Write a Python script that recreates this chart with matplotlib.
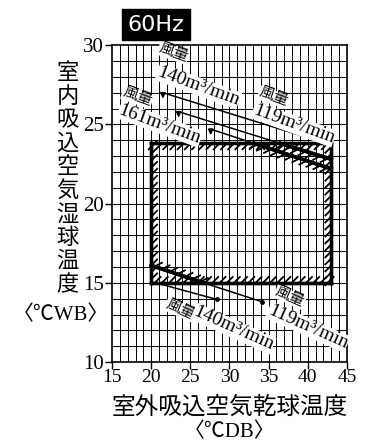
import numpy as np
import matplotlib
matplotlib.use("Agg")
import matplotlib.pyplot as plt
import matplotlib.patheffects as pe

plt.rcParams['font.family'] = ['Liberation Serif', 'Noto Sans CJK JP']

# Operating range box (outdoor DB, indoor WB)
box_x = [20, 43, 43, 20, 20]
box_y = [15, 15, 23.8, 23.8, 15]

# Upper limit lines for each airflow (start point -> right edge)
upper_x0 = [21.5, 23.5, 27.6]
upper_y0 = [27.0, 25.8, 24.7]
upper_x1 = [43, 43, 43]
upper_y1 = [23.7, 22.8, 22.2]

# Lower limit lines
low119_x = [20, 26.7, 34.2]
low119_y = [16.1, 15.0, 13.8]
low140_x = [20.6, 28.4]
low140_y = [15.0, 13.95]

x_ticks = [15, 20, 25, 30, 35, 40, 45]
y_ticks = [10, 15, 20, 25, 30]
y_title = '室内吸込空気湿球温度'

fig = plt.figure(figsize=(3.71, 4.47), dpi=100)
ax = fig.add_axes([0.302, 0.190, 0.633, 0.709])
ax.set_xlim(15, 45)
ax.set_ylim(10, 30)

# graph paper grid
for v in range(16, 45):
    ax.axvline(v, color='black', lw=0.7, zorder=1)
for h in range(11, 30):
    ax.axhline(h, color='black', lw=0.7, zorder=1)

ax.set_xticks(x_ticks)
ax.set_yticks(y_ticks)
ax.tick_params(direction='out', length=5, width=1, labelsize=15, pad=1)
ax.tick_params(axis='x', labelsize=14, pad=0)
for s in ax.spines.values():
    s.set_linewidth(1.2)

hatch = dict(spacing=5, length=1.2, linewidth=1.3)

# hatched box edges (hatches on the inside)
angles = [45, 135, 45, 135]
for i in range(4):
    ax.plot(box_x[i:i + 2], box_y[i:i + 2], color='black', lw=2.4, zorder=4,
            solid_capstyle='projecting',
            path_effects=[pe.withTickedStroke(angle=angles[i], **hatch), pe.Normal()])

# upper lines
for x0, y0, x1, y1 in zip(upper_x0, upper_y0, upper_x1, upper_y1):
    ax.plot([x0, x1], [y0, y1], color='black', lw=1.1, zorder=4)
    ax.annotate('', xy=(x0, y0 - 0.55), xytext=(x0, y0),
                arrowprops=dict(arrowstyle='-|>', color='black', lw=1, mutation_scale=8),
                zorder=5)
# thick hatched part below the box top
for x0, y0, x1, y1 in zip(upper_x0[1:], upper_y0[1:], upper_x1[1:], upper_y1[1:]):
    xc = x0 + (y0 - box_y[2]) * (x1 - x0) / (y0 - y1)
    yc = box_y[2]
    ax.plot([xc, x1], [yc, y1], color='black', lw=2.6, zorder=4,
            path_effects=[pe.withTickedStroke(angle=-135, **hatch), pe.Normal()])

# lower lines
ax.plot(low119_x[:2], low119_y[:2], color='black', lw=2.6, zorder=4,
        path_effects=[pe.withTickedStroke(angle=45, **hatch), pe.Normal()])
ax.plot(low119_x[1:], low119_y[1:], color='black', lw=1.1, zorder=4)
ax.plot(low140_x, low140_y, color='black', lw=1.1, zorder=4)
ax.plot([low119_x[-1], low140_x[-1]], [low119_y[-1], low140_y[-1]], 'o',
        color='black', ms=2.5, zorder=5)

# labels
lab = dict(ha='center', va='center', rotation=-20, rotation_mode='anchor', zorder=6,
           bbox=dict(facecolor='white', edgecolor='none', pad=0.3))
ax.text(22.8, 29.5, '風量', fontsize=11, **lab)
ax.text(26.0, 27.4, '140m³/min', fontsize=14, **lab)
ax.text(18.2, 26.7, '風量', fontsize=11, **lab)
ax.text(21.1, 25.0, '161m³/min', fontsize=14, **lab)
ax.text(35.6, 26.7, '風量', fontsize=11, **lab)
ax.text(38.2, 25.0, '119m³/min', fontsize=14, **lab)
lab2 = dict(lab, rotation=-24)
ax.text(23.7, 13.3, '風量', fontsize=11, **lab2)
ax.text(30.5, 12.1, '140m³/min', fontsize=14, **lab2)
ax.text(37.7, 14.1, '風量', fontsize=11, **lab2)
ax.text(40.0, 12.2, '119m³/min', fontsize=14, **lab2)

# axis titles (vertical title written one character per line)
for i, ch in enumerate(y_title):
    fig.text(0.182, 1 - (74 + i * 23.5) / 447, ch, fontsize=16, ha='center', va='center')
fig.text(0.165, 0.295, '〈℃WB〉', fontsize=15, ha='center', va='center')
fig.text(0.62, 0.088, '室外吸込空気乾球温度', fontsize=17, ha='center', va='center')
fig.text(0.62, 0.033, '〈℃DB〉', fontsize=15, ha='center', va='center')

# frequency badge
fig.text(0.42, 0.945, '60Hz', fontsize=16, color='white', ha='center', va='center',
         family='DejaVu Sans',
         bbox=dict(facecolor='black', edgecolor='black', boxstyle='square,pad=0.25'))

fig.savefig('out.png', dpi=100)
